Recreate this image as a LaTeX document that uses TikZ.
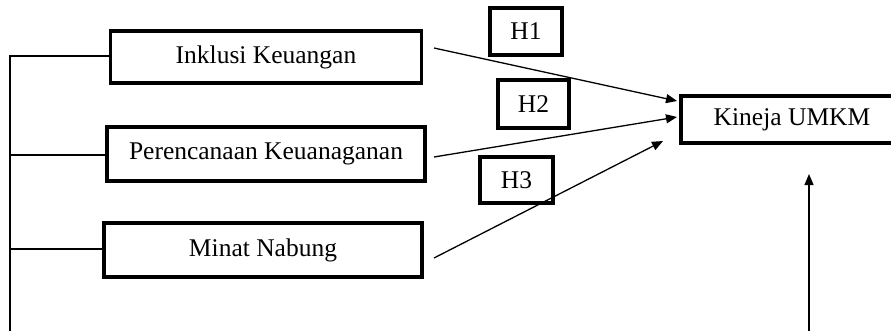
\documentclass[tikz,border=0pt]{standalone}
\usepackage{fontspec}
\setmainfont{Liberation Serif}
\usetikzlibrary{arrows.meta,calc}
\tikzset{
  varbox/.style={draw=black, line width=3.2pt, inner sep=0pt, fill=white,
    font=\fontsize{25.5}{30}\selectfont},
  hbox/.style={draw=black, line width=3.2pt, inner sep=0pt,
    font=\fontsize{25.5}{30}\selectfont},
  thin/.style={draw=black, line width=1.3pt},
  arr/.style={draw=black, line width=1.3pt, -{Triangle[length=11pt,width=9pt]}}
}
\begin{document}
\begin{tikzpicture}[x=1pt,y=-1pt]
\useasboundingbox (0,0) rectangle (891,330);
\clip (0,0) rectangle (891,330);
\fill[white] (0,0) rectangle (891,330);
% variable boxes
\node[varbox, minimum width=311pt, minimum height=52pt] (ink) at (266,57) {Inklusi Keuangan};
\node[varbox, minimum width=318pt, minimum height=54pt] (per) at (266,154) {Perencanaan Keuanaganan};
\node[varbox, minimum width=318pt, minimum height=54pt] (min) at (263,250) {Minat Nabung};
\node[varbox, minimum width=219pt, minimum height=47pt] (kin) at (790.5,119.5) {};
\node[font=\fontsize{25.5}{30}\selectfont, inner sep=0pt] (kintext) at (792,119.5) {Kineja UMKM};
% hypothesis boxes
\node[hbox, minimum width=72pt, minimum height=47pt] (h1) at (526,31.5) {H1};
\node[hbox, minimum width=71pt, minimum height=48pt] (h2) at (533.5,104) {H2};
\node[hbox, minimum width=73pt, minimum height=46pt] (h3) at (516.5,180) {H3};
% arrow coordinates
\coordinate (s1) at (434,48);
\coordinate (t1) at (677,101);
\coordinate (s2) at (434,157);
\coordinate (t2) at (677,117);
\coordinate (s3) at (434,258);
\coordinate (t3) at (663,141);
\coordinate (vb) at (809,335);
\coordinate (vt) at (809,174);
\draw[arr] (s1) -- (t1);
\draw[arr] (s2) -- (t2);
\draw[arr] (s3) -- (t3);
\draw[arr] (vb) -- (vt);
% left bracket
\coordinate (b0) at (10,56);
\coordinate (b1) at (10,155);
\coordinate (b2) at (10,249);
\coordinate (bb) at (10,335);
\draw[thin] (ink.west |- b0) -- (b0) -- (bb);
\draw[thin] (per.west |- b1) -- (b1);
\draw[thin] (min.west |- b2) -- (b2);
\end{tikzpicture}
\end{document}
